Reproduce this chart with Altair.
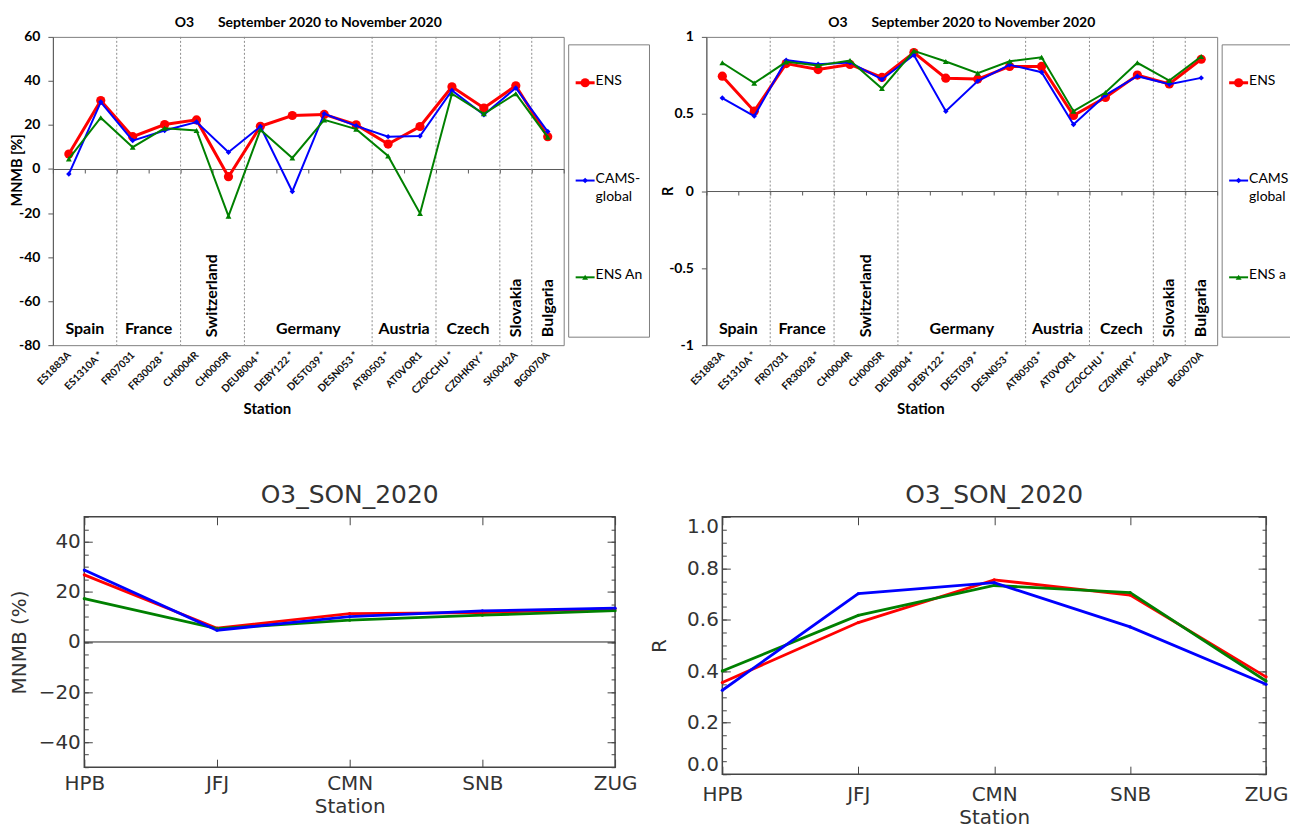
import altair as alt
import pandas as pd

# ---------------- data ----------------
stations = ["ES1883A", "ES1310A *", "FR07031", "FR30028 *", "CH0004R", "CH0005R",
            "DEUB004 *", "DEBY122 *", "DEST039 *", "DESN053 *", "AT80503 *", "AT0VOR1",
            "CZ0CCHU *", "CZ0HKRY *", "SK0042A", "BG0070A"]
countries = ["Spain", "France", "Switzerland", "Germany", "Austria", "Czech", "Slovakia", "Bulgaria"]
country_sizes = [2, 2, 2, 4, 2, 2, 1, 1]
country_vertical = [False, False, True, False, False, False, True, True]

mnmb_ens = [6.8, 31.1, 14.7, 20.2, 22.3, -3.5, 19.4, 24.3, 24.8, 20.1, 11.3, 19.3, 37.3, 27.7, 37.8, 14.7]
mnmb_cams = [-2.3, 30.4, 12.9, 17.5, 21.3, 7.6, 19.3, -10.2, 25.1, 19.6, 14.7, 15.0, 35.7, 24.6, 36.8, 17.0]
mnmb_ensan = [4.6, 23.3, 9.9, 18.5, 17.5, -21.4, 17.8, 5.0, 22.3, 18.1, 5.9, -20.2, 34.2, 25.1, 34.2, 14.5]

r_ens = [0.745, 0.518, 0.827, 0.788, 0.821, 0.737, 0.898, 0.732, 0.726, 0.808, 0.808, 0.490, 0.607, 0.752, 0.695, 0.855]
r_cams = [0.603, 0.486, 0.849, 0.823, 0.834, 0.724, 0.883, 0.518, 0.713, 0.819, 0.771, 0.432, 0.622, 0.745, 0.693, 0.734]
r_ensan = [0.832, 0.700, 0.838, 0.814, 0.847, 0.665, 0.909, 0.840, 0.765, 0.842, 0.868, 0.518, 0.639, 0.832, 0.717, 0.873]

gaw_stations = ["HPB", "JFJ", "CMN", "SNB", "ZUG"]
gaw_mnmb_ens = [26.8, 5.5, 11.3, 11.7, 13.3]
gaw_mnmb_cams = [28.7, 4.7, 10.1, 12.4, 13.5]
gaw_mnmb_ensan = [17.3, 5.3, 8.7, 10.7, 12.5]
gaw_r_ens = [0.356, 0.589, 0.755, 0.696, 0.378]
gaw_r_cams = [0.326, 0.701, 0.744, 0.572, 0.349]
gaw_r_ensan = [0.401, 0.617, 0.733, 0.705, 0.362]

top_title = "O3" + "\u00a0" * 7 + "September 2020 to November 2020"
legend_left = ["ENS", "CAMS-\nglobal", "ENS An"]
legend_right = ["ENS", "CAMS-\nglobal", "ENS an"]

# ---------------- styles ----------------
RED, BLUE, GREEN = "#FF0000", "#0000FF", "#008000"
TF = "Lato"
BF = "DejaVu Sans"
BCOL = "#333333"


def top_panel(ens, cams, ensan, ydom, yvals, ytitle, ytitle_x, ytitle_ybottom, leg_labels, clip_legend,
              W=512, H=309):
    n = len(stations)
    xs = alt.Scale(domain=[-0.5, n - 0.5], nice=False, zero=False)
    ys = alt.Scale(domain=ydom, nice=False, zero=False)
    names_js = "[" + ",".join("'%s'" % s for s in stations) + "]"

    x_label_axis = alt.Axis(orient="bottom", values=list(range(n)), labelExpr=names_js + "[datum.value]",
                            labelAngle=-45, labelAlign="right", labelBaseline="middle",
                            labelFont=TF, labelFontSize=10.3, labelFontWeight="bold", labelColor="#111",
                            labelPadding=8, labelOverlap=False, labelFlush=False,
                            ticks=False, domain=False, grid=False, title=None)
    zero_off = H * (0 - ydom[0]) / (ydom[1] - ydom[0])
    zero_axis = alt.Axis(orient="bottom", offset=-zero_off, values=[k - 0.5 for k in range(n + 1)],
                         labels=False, ticks=True, tickSize=4, tickColor="#595959",
                         domain=True, domainColor="#595959", grid=False, title=None)
    y_axis = alt.Axis(orient="left", values=yvals, labelExpr="'' + datum.value",
                      labelFont=TF, labelFontSize=14, labelFontWeight="bold", labelColor="#000",
                      labelPadding=8, tickSize=5, tickColor="#595959", domainColor="#595959",
                      grid=False, labelFlush=False, title=None)

    starts = [sum(country_sizes[:k]) for k in range(len(countries))]
    df_div = pd.DataFrame({"b": [s - 0.5 for s in starts[1:]]})
    df_c = pd.DataFrame({"country": countries,
                         "c": [s + (z - 1) / 2 for s, z in zip(starts, country_sizes)],
                         "vert": country_vertical})

    def sdf(vals):
        return pd.DataFrame({"i": list(range(n)), "v": vals})

    div = alt.Chart(df_div).mark_rule(color="#8c8c8c", strokeDash=[2, 2], strokeWidth=1).encode(
        x=alt.X("b:Q", scale=xs, axis=None))
    ch = alt.Chart(df_c[~df_c["vert"]]).mark_text(font=TF, fontSize=16, fontWeight="bold", color="#000",
                                                   baseline="middle", align="center").encode(
        x=alt.X("c:Q", scale=xs, axis=None), y=alt.value(H - 16), text="country:N")
    cv = alt.Chart(df_c[df_c["vert"]]).mark_text(font=TF, fontSize=16, fontWeight="bold", color="#000",
                                                  baseline="middle", align="left", angle=270).encode(
        x=alt.X("c:Q", scale=xs, axis=None), y=alt.value(H - 8), text="country:N")

    red_line = alt.Chart(sdf(ens)).mark_line(color=RED, strokeWidth=3).encode(
        x=alt.X("i:Q", scale=xs, axis=x_label_axis), y=alt.Y("v:Q", scale=ys, axis=y_axis))
    red_pts = alt.Chart(sdf(ens)).mark_point(shape="circle", filled=True, size=85, color=RED, opacity=1).encode(
        x=alt.X("i:Q", scale=xs, axis=None), y=alt.Y("v:Q", scale=ys, axis=None))
    blue_line = alt.Chart(sdf(cams)).mark_line(color=BLUE, strokeWidth=2).encode(
        x=alt.X("i:Q", scale=xs, axis=zero_axis), y=alt.Y("v:Q", scale=ys, axis=None))
    blue_pts = alt.Chart(sdf(cams)).mark_point(shape="diamond", filled=True, size=30, color=BLUE, opacity=1).encode(
        x=alt.X("i:Q", scale=xs, axis=None), y=alt.Y("v:Q", scale=ys, axis=None))
    green_line = alt.Chart(sdf(ensan)).mark_line(color=GREEN, strokeWidth=2).encode(
        x=alt.X("i:Q", scale=xs, axis=None), y=alt.Y("v:Q", scale=ys, axis=None))
    green_pts = alt.Chart(sdf(ensan)).mark_point(shape="triangle-up", filled=True, size=35, color=GREEN,
                                                 opacity=1).encode(
        x=alt.X("i:Q", scale=xs, axis=None), y=alt.Y("v:Q", scale=ys, axis=None))

    # axis titles as text marks (vertical one anchored at its lower end)
    ttl = [
        alt.Chart(pd.DataFrame({"t": [ytitle]})).mark_text(
            font=TF, fontSize=14.5, fontWeight="bold", color="#000", angle=270, align="left",
            baseline="middle").encode(x=alt.value(ytitle_x), y=alt.value(ytitle_ybottom), text="t:N"),
        alt.Chart(pd.DataFrame({"t": ["Station"]})).mark_text(
            font=TF, fontSize=15, fontWeight="bold", color="#000", align="center",
            baseline="middle").encode(x=alt.value(215), y=alt.value(H + 64), text="t:N"),
    ]

    # legend (drawn beside the plot)
    one = pd.DataFrame({"k": [0]})
    L0, L1 = W + 5, W + 86
    if clip_legend:
        L1 = W + 73
        box = [
            alt.Chart(one).mark_rule(color="#808080", strokeWidth=1).encode(
                x=alt.value(L0), x2=alt.value(L1), y=alt.value(8)),
            alt.Chart(one).mark_rule(color="#808080", strokeWidth=1).encode(
                x=alt.value(L0), x2=alt.value(L1), y=alt.value(301)),
            alt.Chart(one).mark_rule(color="#808080", strokeWidth=1).encode(
                x=alt.value(L0), y=alt.value(8), y2=alt.value(301)),
        ]
    else:
        box = [alt.Chart(one).mark_rect(fill="white", stroke="#808080", strokeWidth=1).encode(
            x=alt.value(L0), x2=alt.value(L1), y=alt.value(8), y2=alt.value(301))]
    leg_y = [46, 144, 241]
    styles = [(RED, 3, "circle", 85), (BLUE, 2, "diamond", 30), (GREEN, 2, "triangle-up", 35)]
    leg = []
    for lab, yy, (col, sw, shp, sz) in zip(leg_labels, leg_y, styles):
        d = pd.DataFrame({"label": [lab]})
        leg.append(alt.Chart(d).mark_rule(color=col, strokeWidth=sw).encode(
            x=alt.value(W + 12), x2=alt.value(W + 31), y=alt.value(yy)))
        leg.append(alt.Chart(d).mark_point(shape=shp, filled=True, size=sz, color=col, opacity=1).encode(
            x=alt.value(W + 21.5), y=alt.value(yy)))
        tk = dict(font=TF, fontSize=14, color="#000", align="left", baseline="top", dy=-9,
                  lineBreak="\n", lineHeight=19)
        if clip_legend:
            tk.update(limit=L1 - (W + 32), ellipsis="\u200b")
        leg.append(alt.Chart(d).mark_text(**tk).encode(
            x=alt.value(W + 32), y=alt.value(yy), text="label:N"))

    layers = [div, ch, cv, red_line, red_pts, blue_line, blue_pts, green_line, green_pts] + ttl + box + leg
    return alt.layer(*layers).resolve_axis(x="independent", y="independent").properties(
        width=W, height=H,
        title=alt.TitleParams(top_title, font=TF, fontSize=14, fontWeight="bold", color="#000",
                              anchor="middle", frame="group", offset=0),
        view=alt.ViewBackground(stroke="#808080", strokeWidth=1))


def bottom_panel(ens, cams, ensan, ydom, major, minor, fmt, ytitle, title_pad, xlab_pad, flush, W, H,
                 zero_line):
    xs = alt.Scale(type="point", domain=gaw_stations, padding=0)
    ys = alt.Scale(domain=ydom, nice=False, zero=False)
    common = dict(grid=False, domain=False, tickColor="#444444", tickWidth=1)
    x_bottom = alt.Axis(orient="bottom", offset=-8, tickSize=8, labelPadding=xlab_pad, labelAngle=0,
                        labelFont=BF, labelFontSize=20, labelColor=BCOL, labelFlush=False,
                        title="Station", titleFont=BF, titleFontSize=20, titleFontWeight="normal",
                        titleColor=BCOL, titlePadding=3, **common)
    x_top = alt.Axis(orient="top", offset=-8, tickSize=8, labels=False, title=None, **common)
    y_lmaj = alt.Axis(orient="left", values=major, format=fmt, offset=-8, tickSize=8, labelPadding=4,
                      labelFont=BF, labelFontSize=20, labelColor=BCOL, labelFlush=flush,
                      title=ytitle, titleFont=BF, titleFontSize=20, titleFontWeight="normal",
                      titleColor=BCOL, titlePadding=title_pad, **common)
    y_lmin = alt.Axis(orient="left", values=minor, offset=-4, tickSize=4, labels=False, title=None, **common)
    y_rmaj = alt.Axis(orient="right", values=major, offset=-8, tickSize=8, labels=False, title=None, **common)
    y_rmin = alt.Axis(orient="right", values=minor, offset=-4, tickSize=4, labels=False, title=None, **common)

    def sdf(vals):
        return pd.DataFrame({"s": gaw_stations, "v": vals})

    def line(vals, col, xa, ya):
        return alt.Chart(sdf(vals)).mark_line(color=col, strokeWidth=2.8).encode(
            x=alt.X("s:N", scale=xs, sort=None, axis=xa), y=alt.Y("v:Q", scale=ys, axis=ya))

    def pts(vals, col, ya):
        return alt.Chart(sdf(vals)).mark_point(color=col, filled=True, size=10, opacity=1).encode(
            x=alt.X("s:N", scale=xs, sort=None, axis=None), y=alt.Y("v:Q", scale=ys, axis=ya))

    layers = []
    if zero_line:
        layers.append(alt.Chart(pd.DataFrame({"z": [0]})).mark_rule(color="#222222", strokeWidth=1).encode(
            y=alt.Y("z:Q", scale=ys, axis=None)))
    layers += [
        line(ens, RED, x_bottom, y_lmaj),
        line(ensan, GREEN, x_top, y_lmin),
        line(cams, BLUE, None, y_rmaj),
        pts(ens, RED, y_rmin),
        pts(ensan, GREEN, None),
        pts(cams, BLUE, None),
    ]
    return alt.layer(*layers).resolve_axis(x="independent", y="independent").properties(
        width=W, height=H,
        title=alt.TitleParams("O3_SON_2020", font=BF, fontSize=25, fontWeight="normal", color=BCOL,
                              anchor="middle", frame="group", offset=8),
        view=alt.ViewBackground(stroke="#444444", strokeWidth=1.5))


tl = top_panel(mnmb_ens, mnmb_cams, mnmb_ensan, [-80, 60], list(range(-80, 61, 20)), "MNMB [%]",
               -35, 170, legend_left, False)
tr = top_panel(r_ens, r_cams, r_ensan, [-1, 1], [-1, -0.5, 0, 0.5, 1], "R", -37, 159.5,
               legend_right, True)
bl = bottom_panel(gaw_mnmb_ens, gaw_mnmb_cams, gaw_mnmb_ensan, [-50, 50], list(range(-40, 41, 20)),
                  list(range(-50, 51, 5)), "d", "MNMB (%)", 9, 6, False, 532, 251, True)
br = bottom_panel(gaw_r_ens, gaw_r_cams, gaw_r_ensan, [0, 1], [0, 0.2, 0.4, 0.6, 0.8, 1.0],
                  [round(0.05 * k, 2) for k in range(21)], ".1f", "R", 17, 10, True, 545, 258, False)

# tiny invisible cell that sets where the lower row starts (plot origins align per column)
spacer = alt.Chart(pd.DataFrame({"k": [0]})).mark_rule(strokeOpacity=0).encode(
    x=alt.value(0), y=alt.value(0), y2=alt.value(1)).properties(
    width=1, height=1, view=alt.ViewBackground(strokeOpacity=0))

chart = alt.vconcat(
    alt.hconcat(tl, tr, spacing=10),
    alt.hconcat(alt.hconcat(spacer, bl, spacing=-45.5), br, spacing=10),
    spacing=64,
).properties(padding={"left": 8, "top": 14, "right": 0, "bottom": 0})

chart.save("out.html", embed_options={"renderer": "svg", "actions": False})
